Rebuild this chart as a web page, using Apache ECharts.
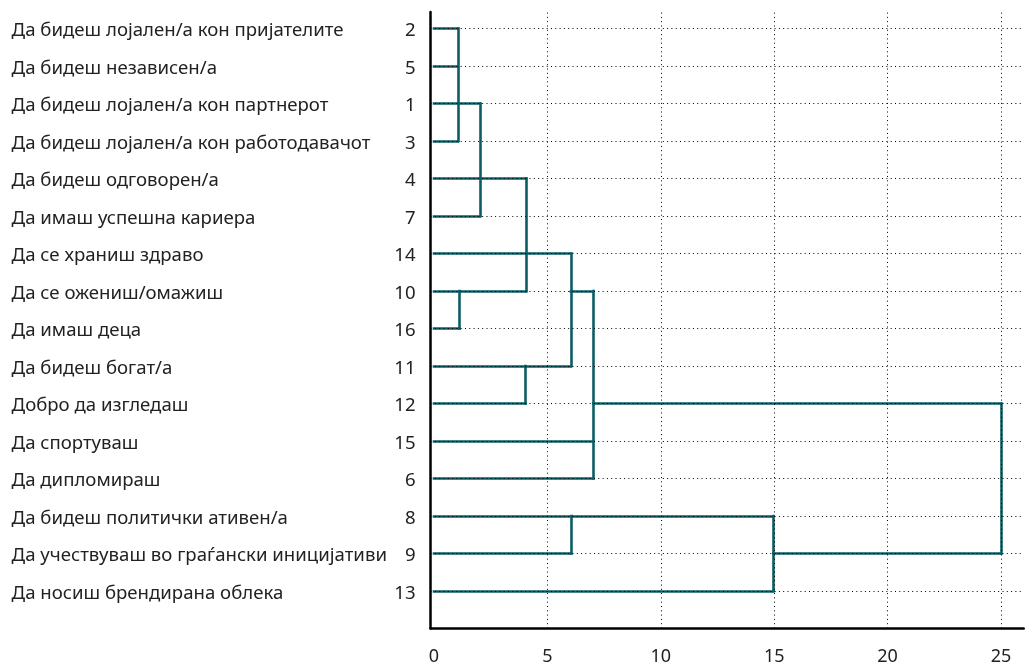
<!DOCTYPE html>
<html>
<head>
<meta charset="utf-8">
<script src="https://cdn.jsdelivr.net/npm/echarts@6/dist/echarts.min.js"></script>
<style>
html,body{margin:0;padding:0;background:#fff;}
#chart{width:1026px;height:664px;}
</style>
</head>
<body>
<div id="chart"></div>
<script>
// Row labels (top to bottom) and their case numbers
const rowNames = [
  'Да бидеш лојален/а кон пријателите',
  'Да бидеш независен/а',
  'Да бидеш лојален/а кон партнерот',
  'Да бидеш лојален/а кон работодавачот',
  'Да бидеш одговорен/а',
  'Да имаш успешна кариера',
  'Да се храниш здраво',
  'Да се ожениш/омажиш',
  'Да имаш деца',
  'Да бидеш богат/а',
  'Добро да изгледаш',
  'Да спортуваш',
  'Да дипломираш',
  'Да бидеш политички ативен/а',
  'Да учествуваш во граѓански иницијативи',
  'Да носиш брендирана облека'
];
const caseNumbers = [2, 5, 1, 3, 4, 7, 14, 10, 16, 11, 12, 15, 6, 8, 9, 13];
const xTicks = [0, 5, 10, 15, 20, 25];

// Horizontal branch pieces: [row (1 = top), from distance, to distance]
const hBranches = [
  [1, 0, 1.05], [2, 0, 1.05], [3, 0, 2.03], [4, 0, 1.05],
  [5, 0, 4.06], [6, 0, 2.03], [7, 0, 6.03],
  [8, 0, 4.06], [8, 6.03, 7.02],
  [9, 0, 1.12], [10, 0, 6.03],
  [11, 0, 4.03], [11, 7.02, 24.99],
  [12, 0, 7.02], [13, 0, 7.02], [14, 0, 14.96],
  [15, 0, 6.04], [15, 14.96, 24.99],
  [16, 0, 14.96]
];
// Vertical joins: [distance, top row, bottom row]
const vJoins = [
  [1.05, 1, 4], [2.03, 3, 6], [4.06, 5, 8], [1.12, 8, 9],
  [6.03, 7, 10], [4.03, 10, 11], [7.02, 8, 13],
  [6.04, 14, 15], [14.96, 14, 16], [24.99, 11, 15]
];

const N = rowNames.length;
const rowVal = r => N + 1 - r;
const FONT = "'Noto Sans', 'Open Sans', sans-serif";

const segData = [];
hBranches.forEach(([r, a, b]) => segData.push({coords: [[a, rowVal(r)], [b, rowVal(r)]]}));
vJoins.forEach(([x, r0, r1]) => segData.push({coords: [[x, rowVal(r0)], [x, rowVal(r1)]]}));

const gridMarks = [];
xTicks.filter(v => v > 0).forEach(v => gridMarks.push({xAxis: v}));
for (let r = 1; r <= N; r++) gridMarks.push({yAxis: rowVal(r)});

const chart = echarts.init(document.getElementById('chart'), null, {renderer: 'canvas'});
chart.setOption({
  animation: false,
  backgroundColor: '#fff',
  grid: {left: 430.6, right: 2.3, top: 12, bottom: 35.5, containLabel: false, outerBoundsMode: 'none'},
  xAxis: {
    type: 'value', min: -0.15, max: 26, minInterval: 5, maxInterval: 5,
    axisLine: {show: true, onZero: false, lineStyle: {color: '#000', width: 2.5}},
    axisTick: {show: false},
    splitLine: {show: false},
    axisLabel: {
      margin: 19, fontSize: 18, color: '#222', fontFamily: FONT,
      showMinLabel: true, showMaxLabel: true,
      formatter: v => (xTicks.some(t => Math.abs(t - v) < 1e-6) ? String(Math.round(v)) : '')
    }
  },
  yAxis: {
    type: 'value', min: 0, max: 16.44, interval: 1,
    axisLine: {show: true, onZero: false, lineStyle: {color: '#000', width: 2.5}},
    axisTick: {show: false},
    splitLine: {show: false},
    axisLabel: {
      margin: 15,
      formatter: v => {
        const iv = Math.round(v);
        if (Math.abs(iv - v) > 1e-6) return '';
        const r = N + 1 - iv;
        if (r < 1 || r > N) return '';
        return '{n|' + rowNames[r - 1] + '}{c|' + caseNumbers[r - 1] + '}';
      },
      rich: {
        n: {width: 364, align: 'left', fontSize: 18.6, color: '#222', fontFamily: FONT, padding: [5, 0, 0, 0]},
        c: {width: 40, align: 'right', fontSize: 18.6, color: '#222', fontFamily: FONT, padding: [5, 0, 0, 0]}
      }
    }
  },
  series: [
    {
      type: 'lines', coordinateSystem: 'cartesian2d', z: 2, silent: true,
      lineStyle: {color: '#0b5d63', width: 2.6, opacity: 1, cap: 'square'},
      data: segData
    },
    {
      type: 'line', data: [], z: 5, silent: true,
      markLine: {
        silent: true, symbol: ['none', 'none'], animation: false,
        label: {show: false},
        lineStyle: {color: '#000', width: 1, type: [1, 3.3], opacity: 1},
        emphasis: {disabled: true},
        data: gridMarks
      }
    }
  ]
});
</script>
</body>
</html>
